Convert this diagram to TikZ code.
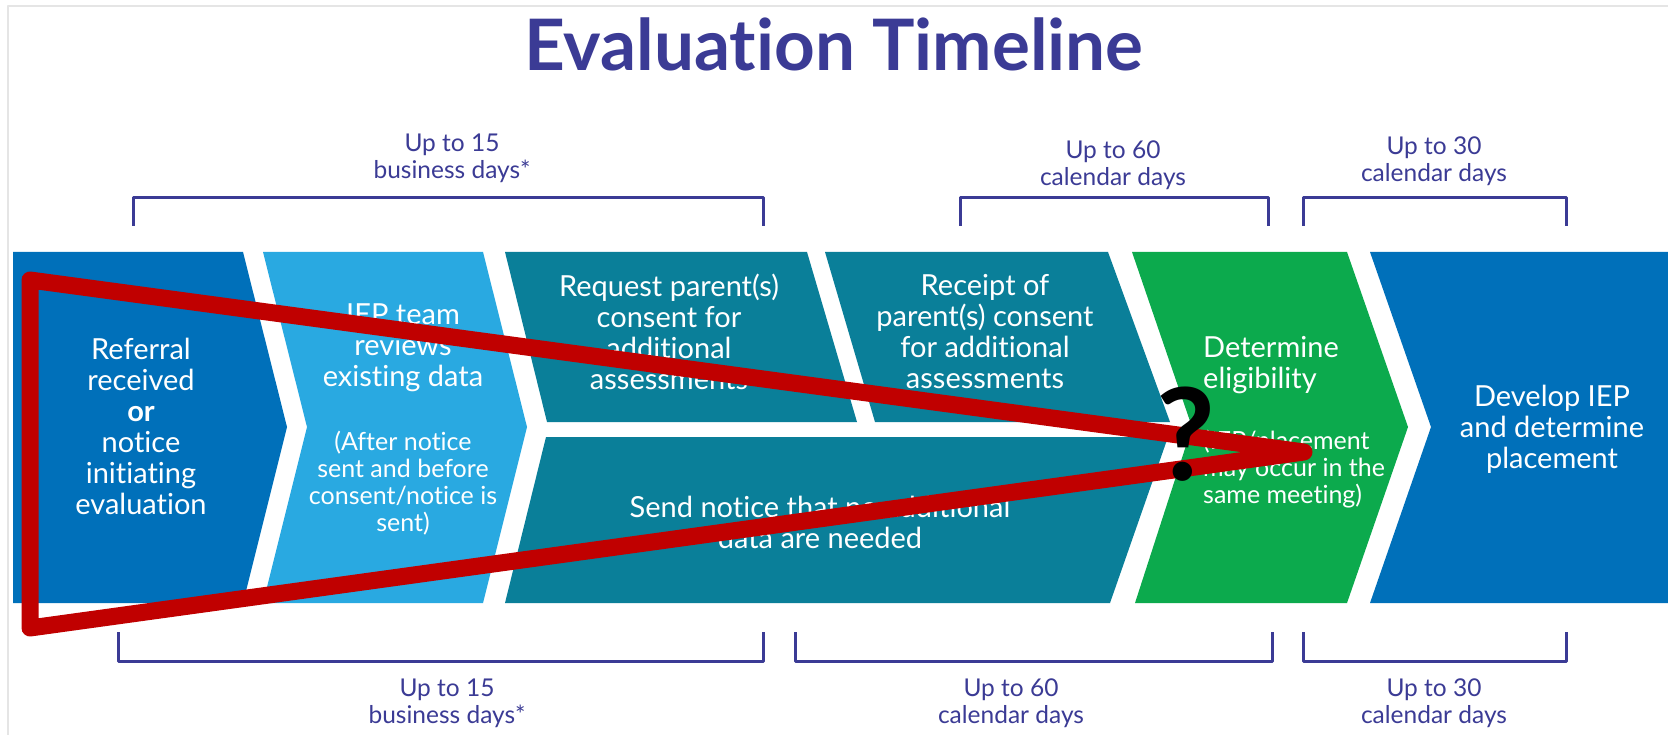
\documentclass[tikz,border=0pt]{standalone}
\usepackage{fontspec}
\setmainfont{Lato}[Ligatures=NoCommon]
\usetikzlibrary{positioning}

\definecolor{tlblue}{HTML}{0070BA}
\definecolor{tlsky}{HTML}{29A9E1}
\definecolor{tlteal}{HTML}{0A7F99}
\definecolor{tlgreen}{HTML}{0CAA4D}
\definecolor{tlink}{HTML}{3B3B95}
\definecolor{tlred}{HTML}{C00000}

\begin{document}
\begin{tikzpicture}[x=1pt, y=-1pt, line join=round, node distance=6pt,
        brace/.style={draw=tlink, line width=3pt},
        lbl/.style={text=tlink, align=center, inner sep=0, font=\fontsize{24.5}{27}\selectfont},
        stp/.style={text=white, align=center, inner sep=0, font=\fontsize{29}{31}\selectfont},
        sub/.style={text=white, align=center, inner sep=0, font=\fontsize{25}{27}\selectfont}]
\useasboundingbox (0,0) rectangle (1668,735);
\fill[white] (0,0) rectangle (1668,735);
\draw[gray!20, line width=2pt] (8,735) -- (8,6) -- (1668,6);

\node[text=tlink, font=\fontsize{71}{74}\selectfont\bfseries] (title) at (834,44) {Evaluation Timeline};

% the band of steps
\fill[tlblue]  (13,252) -- (243,252) -- (287,427) -- (243,603) -- (13,603) -- cycle;
\fill[tlsky]   (263,252) -- (483,252) -- (527,427) -- (483,603) -- (263,603) -- (307,427) -- cycle;
\fill[tlteal]  (505,252) -- (807,252) -- (857,422) -- (547,422) -- cycle;
\fill[tlteal]  (825,252) -- (1108,252) -- (1170,422) -- (875,422) -- cycle;
\fill[tlteal]  (546,437) -- (1168,437) -- (1110,603) -- (505,603) -- cycle;
\fill[tlgreen] (1132,252) -- (1347,252) -- (1408,427) -- (1347,603) -- (1135,603) -- (1192,427) -- cycle;
\fill[tlblue]  (1370,252) -- (1668,252) -- (1668,603) -- (1370,603) -- (1431,427) -- cycle;

\node[stp] (referral) at (141,426) {Referral\\received\\\textbf{or}\\notice\\initiating\\evaluation};
\node[stp] (review) at (403,348) {IEP team\\reviews\\existing data};
\node[sub] (reviewnote) at (403,483) {(After notice\\sent and before\\consent/notice is\\sent)};
\node[stp] (request) at (669,332) {Request parent(s)\\consent for\\additional\\assessments};
\node[stp] (receipt) at (985,332) {Receipt of\\parent(s) consent\\for additional\\assessments};
\node[stp] (nodata) at (820,522) {Send notice that no additional\\data are needed};
\node[stp, align=left, anchor=west] (elig) at (1203,365) {Determine\\eligibility};
\node[sub, align=left, anchor=west] (elignote) at (1203,469) {(IEP/placement\\may occur in the\\same meeting)};
\node[stp] (iep) at (1552,429) {Develop IEP\\and determine\\placement};

% time spans above
\draw[brace] (133,226) -- (133,198) -- (763,198) -- (763,226);
\draw[brace] (960,226) -- (960,198) -- (1268,198) -- (1268,226);
\draw[brace] (1303,226) -- (1303,198) -- (1566,198) -- (1566,226);
\coordinate (ta) at (452,198);
\coordinate (tb) at (1113,198);
\coordinate (tc) at (1434,198);
\node[lbl, above=15pt of ta] {Up to 15\\business days*};
\node[lbl, above=8pt of tb] {Up to 60\\calendar days};
\node[lbl, above=12pt of tc] {Up to 30\\calendar days};

% time spans below
\draw[brace] (118,632) -- (118,661) -- (763,661) -- (763,632);
\draw[brace] (795,632) -- (795,661) -- (1272,661) -- (1272,632);
\draw[brace] (1303,632) -- (1303,661) -- (1566,661) -- (1566,632);
\coordinate (ba) at (447,661);
\coordinate (bb) at (1011,661);
\coordinate (bc) at (1434,661);
\node[lbl, below=18pt of ba] {Up to 15\\business days*};
\node[lbl, below=18pt of bb] {Up to 60\\calendar days};
\node[lbl, below=18pt of bc] {Up to 30\\calendar days};

% red wedge and question mark
\draw[tlred, line width=17pt, line cap=round] (1304,452) -- (30,280) -- (30,628) -- cycle;
\node[inner sep=0, font=\fontsize{128}{130}\selectfont\bfseries] (q) at (1186,434) {?};
\end{tikzpicture}
\end{document}
